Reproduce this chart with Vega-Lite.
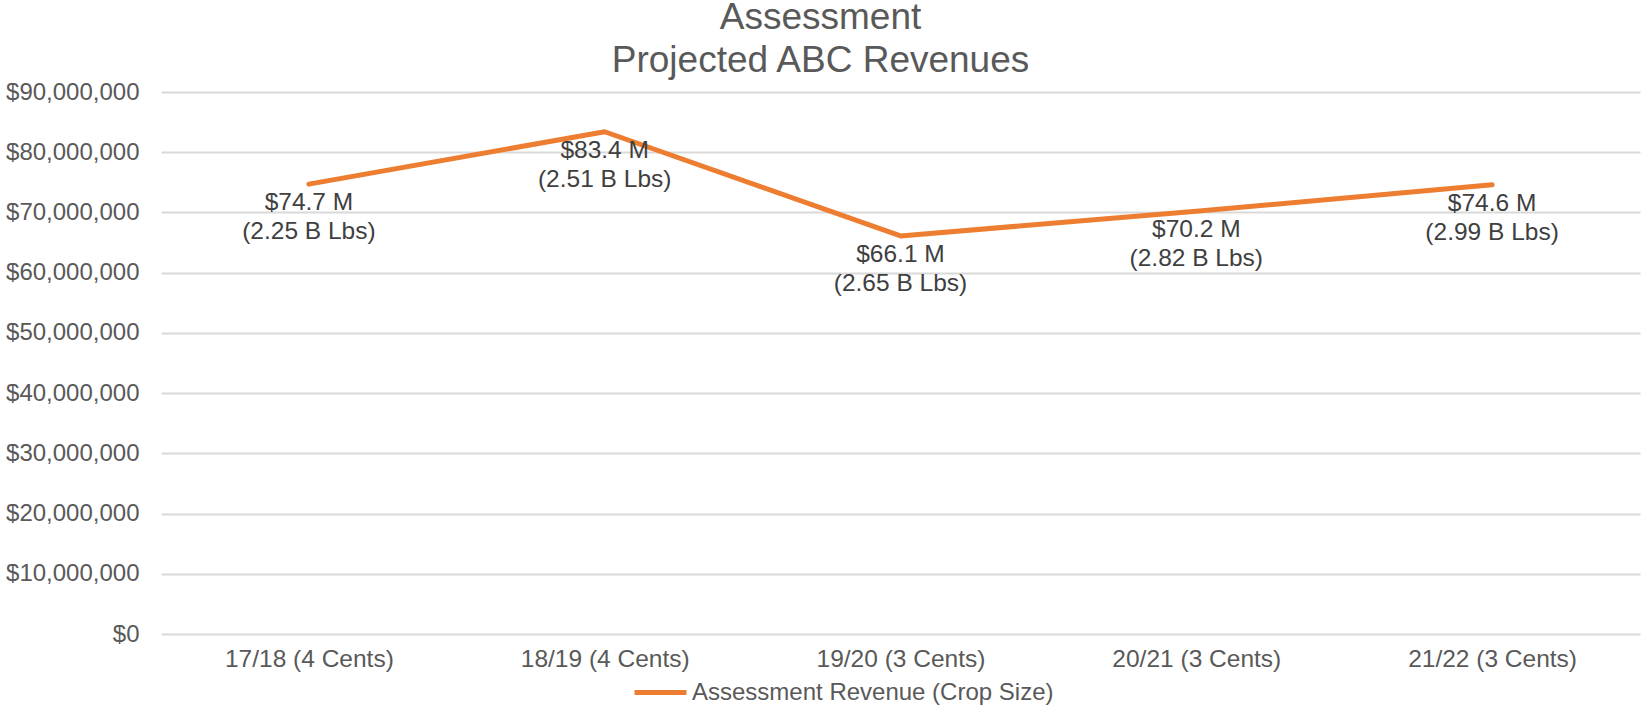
{
  "$schema": "https://vega.github.io/schema/vega-lite/v6.json",
  "autosize": {"type": "none"},
  "width": 1479,
  "height": 542,
  "padding": {"left": 161, "top": 92, "right": 2, "bottom": 74},
  "background": "#ffffff",
  "config": {
    "font": "Liberation Sans",
    "view": {"stroke": null}
  },
  "title": {
    "text": ["Assessment", "Projected ABC  Revenues"],
    "fontSize": 37,
    "fontWeight": "normal",
    "color": "#595959",
    "lineHeight": 43,
    "anchor": "middle",
    "dx": -80,
    "offset": 0
  },
  "data": {
    "values": [
      {"year": "17/18 (4 Cents)", "revenue": 74700000, "label": "$74.7 M\n(2.25 B Lbs)", "series": "Assessment Revenue (Crop Size)"},
      {"year": "18/19 (4 Cents)", "revenue": 83400000, "label": "$83.4 M\n(2.51 B Lbs)", "series": "Assessment Revenue (Crop Size)"},
      {"year": "19/20 (3 Cents)", "revenue": 66100000, "label": "$66.1 M\n(2.65 B Lbs)", "series": "Assessment Revenue (Crop Size)"},
      {"year": "20/21 (3 Cents)", "revenue": 70200000, "label": "$70.2 M\n(2.82 B Lbs)", "series": "Assessment Revenue (Crop Size)"},
      {"year": "21/22 (3 Cents)", "revenue": 74600000, "label": "$74.6 M\n(2.99 B Lbs)", "series": "Assessment Revenue (Crop Size)"}
    ]
  },
  "encoding": {
    "x": {
      "field": "year",
      "type": "ordinal",
      "sort": null,
      "scale": {"type": "point", "padding": 0.5},
      "axis": {
        "title": null,
        "labelAngle": 0,
        "labelFontSize": 24.5,
        "labelColor": "#595959",
        "labelPadding": 13,
        "ticks": false,
        "domain": false,
        "grid": false
      }
    },
    "y": {
      "field": "revenue",
      "type": "quantitative",
      "scale": {"domain": [0, 90000000], "nice": false},
      "axis": {
        "title": null,
        "values": [0, 10000000, 20000000, 30000000, 40000000, 50000000, 60000000, 70000000, 80000000, 90000000],
        "format": "$,.0f",
        "labelFontSize": 24,
        "labelColor": "#595959",
        "labelPadding": 22,
        "ticks": false,
        "domain": false,
        "grid": true,
        "gridColor": "#D9D9D9",
        "gridWidth": 2
      }
    }
  },
  "layer": [
    {
      "mark": {"type": "line", "strokeWidth": 5, "strokeCap": "round", "strokeJoin": "round"},
      "encoding": {
        "color": {
          "field": "series",
          "type": "nominal",
          "scale": {"range": ["#ED7D31"]},
          "legend": {
            "title": null,
            "orient": "none",
            "legendX": 471,
            "legendY": 572,
            "direction": "horizontal",
            "labelFontSize": 24,
            "labelColor": "#595959",
            "labelOffset": 3,
            "symbolType": "stroke",
            "symbolStrokeWidth": 5,
            "symbolSize": 2700,
            "labelLimit": 700
          }
        }
      }
    },
    {
      "mark": {
        "type": "text",
        "baseline": "top",
        "align": "center",
        "dy": 7,
        "fontSize": 24.5,
        "color": "#404040",
        "lineBreak": "\n",
        "lineHeight": 29
      },
      "encoding": {
        "text": {"field": "label"}
      }
    }
  ]
}
